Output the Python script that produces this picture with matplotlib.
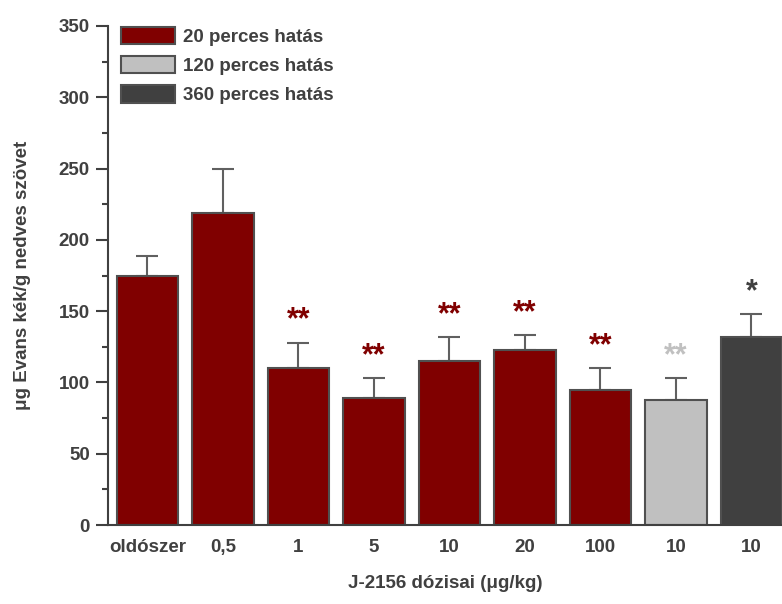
import matplotlib
matplotlib.use("Agg")
import matplotlib.pyplot as plt
from matplotlib.patches import Patch

categories = ["oldószer", "0,5", "1", "5", "10", "20", "100", "10", "10"]
values = [175, 219, 110, 89, 115, 123, 95, 88, 132]
errors = [14, 31, 18, 14, 17, 10, 15, 15, 16]
groups = [0, 0, 0, 0, 0, 0, 0, 1, 2]
stars = ["", "", "**", "**", "**", "**", "**", "**", "*"]
legend_labels = ["20 perces hatás", "120 perces hatás", "360 perces hatás"]
group_colors = ["#800000", "#c0c0c0", "#404040"]
yticks = [0, 50, 100, 150, 200, 250, 300, 350]

plt.rcParams["font.family"] = ["Liberation Sans", "DejaVu Sans"]
plt.rcParams["font.weight"] = "bold"
txt = "#404040"
fs = 13.5

fig = plt.figure(figsize=(7.82, 6.04), dpi=100)
ax = fig.add_axes([108/782, 79/604, 1 - 108/782, (525-26)/604])

x = list(range(len(categories)))
cols = [group_colors[g] for g in groups]
ax.bar(x, values, width=0.81, color=cols, edgecolor="#505050", linewidth=1.5, zorder=2)
ax.errorbar(x, values, yerr=[[0]*len(errors), errors], fmt="none", ecolor="#606060",
            elinewidth=1.5, capsize=8, capthick=1.5, zorder=1)
for xi, v, e, s, c in zip(x, values, errors, stars, cols):
    if s:
        ax.annotate(s, (xi, v + e), xytext=(0, 5), textcoords="offset points",
                    ha="center", va="bottom", fontsize=22, color=c, fontweight="bold")

ax.set_xlim(-0.523, 8.404)
ax.set_ylim(0, 350)
ax.set_yticks(yticks)
ax.set_yticks([25, 75, 125, 175, 225, 275, 325], minor=True)
ax.set_xticks(x)
ax.set_xticklabels(categories)
ax.tick_params(axis="x", length=0, pad=10, labelsize=fs, labelcolor=txt)
ax.tick_params(axis="y", which="major", direction="out", length=9, width=1.5, color=txt,
               labelsize=fs, labelcolor=txt, pad=4)
ax.tick_params(axis="y", which="minor", direction="out", length=4, width=1.5, color=txt)
for sp in ["top", "right"]:
    ax.spines[sp].set_visible(False)
for sp in ["left", "bottom"]:
    ax.spines[sp].set_color(txt)
    ax.spines[sp].set_linewidth(1.5)

ax.set_xlabel("J-2156 dózisai (μg/kg)", fontsize=fs, color=txt, labelpad=14, fontweight="bold")
ax.set_ylabel("μg Evans kék/g nedves szövet", fontsize=fs, color=txt, labelpad=20, fontweight="bold")

handles = [Patch(facecolor=c, edgecolor="#505050", linewidth=1.5) for c in group_colors]
leg = ax.legend(handles, legend_labels, loc="upper left", bbox_to_anchor=(0.0, 1.025),
                frameon=False, fontsize=fs, handlelength=2.9, handleheight=1.07,
                labelspacing=0.53, handletextpad=0.4, borderaxespad=0.3)
for t in leg.get_texts():
    t.set_color(txt)

fig.savefig("out.png", dpi=100)
